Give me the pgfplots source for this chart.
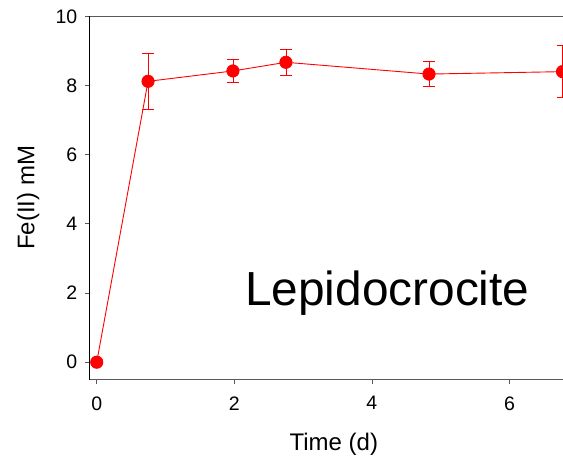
\documentclass[border=0pt]{standalone}
\usepackage{pgfplots}
\pgfplotsset{compat=1.18}
\usepackage{fontspec}
\setmainfont{Liberation Sans}
\begin{document}
\begin{tikzpicture}
\useasboundingbox (-89.3bp,-80.5bp) rectangle (473.7bp,379.5bp);
\begin{axis}[
  scale only axis,
  width=489bp, height=363.2bp,
  xmin=-0.108, xmax=7, ymin=-0.5, ymax=10,
  xtick={0,2,4,6}, ytick={0,2,4,6,8,10},
  tick pos=left, tick align=outside,
  major tick length=4.5bp,
  every tick/.style={draw=black!65, line width=0.8bp},
  axis line style={draw=black!65, line width=1bp},
  /pgf/number format/assume math mode=true,
  tick label style={font=\fontsize{19.5bp}{22bp}\selectfont},
  label style={font=\fontsize{24bp}{28bp}\selectfont},
  xlabel={Time (d)},
  ylabel={Fe(II) mM},
  xlabel style={at={(axis description cs:0.5,0)}, anchor=base, yshift=-71bp},
  ylabel style={at={(axis description cs:0,0.5)}, anchor=base, yshift=55bp},
  yticklabel style={xshift=-4bp},
  xticklabel style={yshift=-9bp},
  clip=false,
]
\addplot[red, line width=0.9bp, mark=*, mark size=6.1bp,
  error bars/.cd, y dir=both, y explicit,
  error bar style={red, line width=0.8bp},
  error mark options={rotate=90, mark size=5.8bp, red, line width=0.8bp}]
  table[x=x, y=y, y error=e] {
  x y e
  0 0 0
  0.746 8.12 0.82
  1.98 8.42 0.32
  2.75 8.67 0.38
  4.83 8.33 0.37
  6.77 8.40 0.75
  };
\draw[black, line width=1bp] (rel axis cs:0,0) -- (rel axis cs:0,1);
\end{axis}
\node[anchor=base west, inner sep=0pt, font=\fontsize{47.8bp}{52bp}\selectfont] at (155.7bp,73.8bp) {Lepidocrocite};
\end{tikzpicture}
\end{document}
